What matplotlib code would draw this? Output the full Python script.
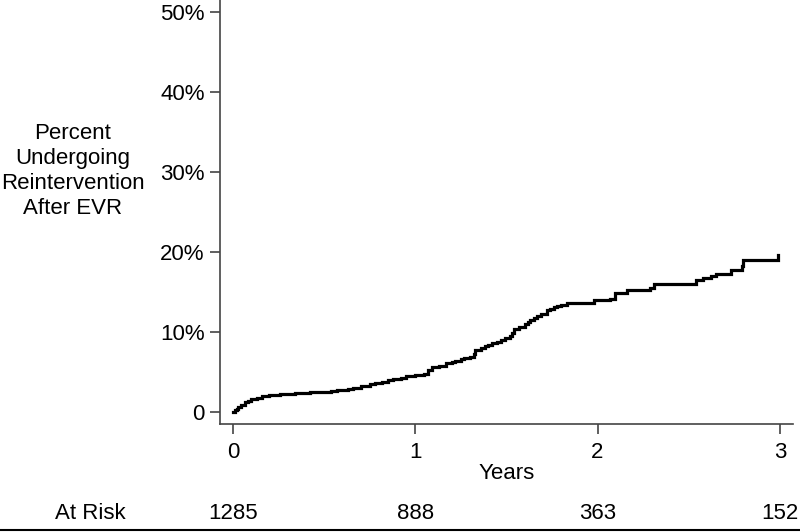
import numpy as np
import matplotlib.pyplot as plt

plt.rcParams['font.family'] = ['Liberation Sans', 'DejaVu Sans']

# cumulative reintervention (%), step function
years = [0.0, 0.01, 0.02, 0.03, 0.045, 0.066, 0.08, 0.10, 0.13, 0.16, 0.20, 0.26, 0.30, 0.34,
         0.38, 0.42, 0.48, 0.51, 0.54, 0.57, 0.59, 0.63, 0.66, 0.70, 0.75, 0.78, 0.82, 0.85,
         0.88, 0.92, 0.95, 1.00, 1.05, 1.07, 1.09, 1.13, 1.17, 1.20, 1.22, 1.25, 1.27, 1.30,
         1.32, 1.33, 1.36, 1.38, 1.40, 1.42, 1.45, 1.47, 1.49, 1.52, 1.53, 1.54, 1.57, 1.60,
         1.62, 1.63, 1.65, 1.67, 1.69, 1.72, 1.74, 1.76, 1.78, 1.80, 1.83, 1.98, 2.07, 2.095,
         2.16, 2.29, 2.31, 2.52, 2.54, 2.58, 2.62, 2.65, 2.73, 2.79, 2.80, 2.98, 2.99]
pct = [0.0, 0.2, 0.4, 0.6, 0.9, 1.2, 1.4, 1.6, 1.8, 1.95, 2.1, 2.25, 2.3, 2.35,
       2.4, 2.45, 2.5, 2.55, 2.65, 2.75, 2.8, 2.9, 3.0, 3.2, 3.5, 3.6, 3.8, 3.95,
       4.1, 4.3, 4.5, 4.6, 4.75, 5.2, 5.6, 5.8, 6.1, 6.3, 6.4, 6.6, 6.7, 6.9,
       7.3, 7.7, 8.0, 8.2, 8.4, 8.6, 8.8, 9.0, 9.2, 9.5, 9.9, 10.4, 10.6, 11.0,
       11.3, 11.5, 11.8, 12.0, 12.3, 12.7, 12.9, 13.1, 13.3, 13.4, 13.6, 14.0, 14.1, 14.9,
       15.25, 15.5, 16.0, 16.0, 16.5, 16.8, 17.0, 17.25, 17.75, 18.2, 19.0, 19.0, 19.6]

risk_years = [0, 1, 2, 3]
at_risk = ['1285', '888', '363', '152']
ytick_vals = [0, 10, 20, 30, 40, 50]
ytick_labels = ['0', '10%', '20%', '30%', '40%', '50%']

fig = plt.figure(figsize=(8, 5.32), dpi=100)
ax = fig.add_axes([0.275, 0.203, 0.716, 0.797])

ax.plot(years, pct, drawstyle='steps-post', color='black', lw=2.3, solid_joinstyle='miter')

ax.set_xlim(-0.071, 3.071)
ax.set_ylim(-1.5, 51.5)
ax.set_xticks(risk_years)
ax.set_xticklabels([str(v) for v in risk_years])
ax.set_yticks(ytick_vals)
ax.set_yticklabels(ytick_labels)

spine_col = '#444444'
fs = 16
for s in ['top', 'right']:
    ax.spines[s].set_visible(False)
for s in ['left', 'bottom']:
    ax.spines[s].set_color(spine_col)
    ax.spines[s].set_linewidth(1.2)
ax.tick_params(axis='both', direction='out', length=7, width=1.2, color=spine_col,
               labelsize=fs, pad=6)
ax.tick_params(axis='y', pad=4)

ax.set_xlabel('Years', fontsize=fs, labelpad=0)
fig.text(0.091, 0.679, 'Percent\nUndergoing\nReintervention\nAfter EVR', ha='center', va='center',
         fontsize=fs, linespacing=1.25)

# at-risk row
fig.text(0.069, 0.034, 'At Risk', ha='left', va='center', fontsize=fs)
for yr, n in zip(risk_years, at_risk):
    xf = ax.transData.transform((yr, 0))[0] / fig.bbox.width
    fig.text(xf, 0.034, n, ha='center', va='center', fontsize=fs)
fig.add_artist(plt.Line2D([0, 1], [0.004, 0.004], color='black', lw=1.5, transform=fig.transFigure))

fig.savefig('out.png', dpi=100)
